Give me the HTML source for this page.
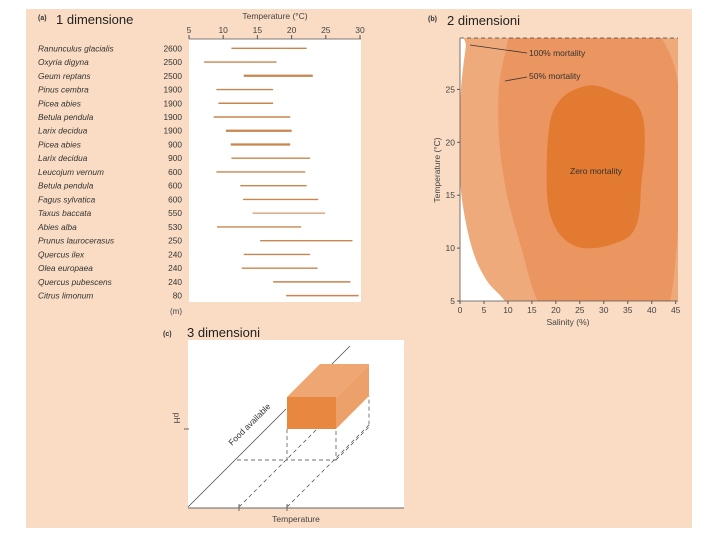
<!DOCTYPE html>
<html><head><meta charset="utf-8">
<style>
html,body{margin:0;padding:0;background:#fff;}
svg{display:block;font-family:"Liberation Sans",sans-serif;}
</style></head>
<body>
<svg width="720" height="540" viewBox="0 0 720 540">
<rect x="26" y="9" width="666" height="519" fill="#f9dcc3"/>
<g id="pa">
 <text x="38" y="20" font-size="7" font-weight="bold" fill="#333">(a)</text>
 <text x="56" y="24" font-size="13" fill="#222">1 dimensione</text>
 <text x="275" y="19" font-size="8.5" fill="#444" text-anchor="middle">Temperature (°C)</text>
 <rect x="189" y="39" width="172" height="263" fill="#fff"/>
 <line x1="189" y1="39" x2="361" y2="39" stroke="#555" stroke-width="0.8"/>
 <g id="aTicks"></g><g id="aRows"></g>
 <text x="182" y="314" font-size="8" fill="#444" text-anchor="end">(m)</text>
</g>
<g id="pb">
 <text x="428" y="21" font-size="7" font-weight="bold" fill="#333">(b)</text>
 <text x="447" y="25" font-size="13" fill="#222">2 dimensioni</text>
 <defs><clipPath id="bclip"><rect x="460" y="38" width="218" height="263"/></clipPath></defs>
 <rect x="460" y="38" width="218" height="263" fill="#fff"/>
 <g clip-path="url(#bclip)" id="bRegions"></g>
 <line x1="460" y1="38" x2="678" y2="38" stroke="#444" stroke-dasharray="4,3" stroke-width="0.8"/>
 <line x1="460" y1="38" x2="460" y2="301" stroke="#555" stroke-width="0.8"/>
 <line x1="460" y1="301" x2="678" y2="301" stroke="#555" stroke-width="0.8"/>
 <g id="bTicks"></g>
 <text x="568" y="325" font-size="8.5" fill="#444" text-anchor="middle">Salinity (%)</text>
 <text transform="translate(440,170) rotate(-90)" font-size="8.5" fill="#444" text-anchor="middle">Temperature (°C)</text>
 <path d="M470,45 L527,53" stroke="#333" stroke-width="0.8" fill="none"/>
 <text x="529" y="56" font-size="8.5" fill="#333">100% mortality</text>
 <path d="M505,81 L527,77" stroke="#333" stroke-width="0.8" fill="none"/>
 <text x="529" y="79" font-size="8.5" fill="#333">50% mortality</text>
 <text x="596" y="174" font-size="8.5" fill="#333" text-anchor="middle">Zero mortality</text>
</g>
<g id="pc">
 <text x="163" y="336" font-size="7" font-weight="bold" fill="#333">(c)</text>
 <text x="187" y="337" font-size="13" fill="#222">3 dimensioni</text>
 <rect x="188" y="340" width="216" height="168" fill="#fff"/>
 <g stroke="#444" stroke-width="0.7" fill="none">
  <line x1="188" y1="507" x2="286" y2="409"/>
  <line x1="287" y1="409" x2="350" y2="346"/>
  <line x1="239" y1="507" x2="320" y2="426" stroke-dasharray="4,3"/>
  <line x1="287" y1="507" x2="370" y2="424" stroke-dasharray="4,3"/>
  <polyline points="287,429 287,460 336,460 336,429" stroke-dasharray="4,3"/>
  <polyline points="237,460 287,460" stroke-dasharray="4,3"/>
  <polyline points="336,460 369,427 369,396" stroke-dasharray="4,3"/>
 </g>
 <polygon points="287,397 320,364 369,364 336,397" fill="#eea772"/>
 <polygon points="336,397 369,364 369,396 336,429" fill="#eda16a"/>
 <rect x="287" y="397" width="49" height="32" fill="#e8873f"/>
 <line x1="188" y1="508" x2="404" y2="508" stroke="#666" stroke-width="1"/>
 <line x1="239" y1="504" x2="239" y2="511" stroke="#666"/>
 <line x1="287" y1="504" x2="287" y2="511" stroke="#666"/>
 <line x1="184" y1="429" x2="189" y2="429" stroke="#666"/>
 <text x="296" y="522" font-size="8.5" fill="#444" text-anchor="middle">Temperature</text>
 <text transform="translate(174,418) rotate(90)" font-size="8.5" fill="#444" text-anchor="middle">pH</text>
 <text transform="translate(232,446) rotate(-45)" font-size="8.5" fill="#333">Food available</text>
</g>
</svg>
<script>
var NS="http://www.w3.org/2000/svg";
// Panel a data
var species=["Ranunculus glacialis","Oxyria digyna","Geum reptans","Pinus cembra","Picea abies","Betula pendula","Larix decidua","Picea abies","Larix decidua","Leucojum vernum","Betula pendula","Fagus sylvatica","Taxus baccata","Abies alba","Prunus laurocerasus","Quercus ilex","Olea europaea","Quercus pubescens","Citrus limonum"];
var altitudes=["2600","2500","2500","1900","1900","1900","1900","900","900","600","600","600","550","530","250","240","240","240","80"];
var tempMin=[11.2,7.2,13.0,9.0,9.3,8.6,10.4,11.1,11.2,9.0,12.5,12.9,14.3,9.1,15.4,13.0,12.7,17.3,19.2];
var tempMax=[22.2,17.8,23.1,17.3,17.3,19.8,20.0,19.8,22.7,22.0,22.2,23.9,24.9,21.4,28.9,22.7,23.8,28.6,29.8];
var thick=[0,0,1,0,0,0,1,1,0,0,0,0,0,0,0,0,0,0,0];
var tempTicks=[5,10,15,20,25,30];
// Panel b data [salinity, temperature]
var salTicks=[0,5,10,15,20,25,30,35,40,45];
var tTicks=[5,10,15,20,25];
var region100=[[2.5,33],[1.2,29],[0.2,25],[-0.2,20],[0.3,15],[2.5,10],[5.5,7],[9.4,5],[16,1],[40,-5],[70,-5],[70,40],[40,40]];
var region50=[[12.5,33],[9.5,28.5],[8.1,25],[8.2,20],[9.8,15],[12.8,10],[16.2,5],[22,1],[35,0],[42.5,3],[45.2,10],[46,20],[45.3,26],[42.5,29.5],[37,33],[25,36]];
var region0=[[26,25.3],[22,24.5],[19.5,23],[18.5,21],[18.1,18],[18.4,14],[20.5,11.5],[24,10.2],[28,10],[32,10.4],[35.5,11.2],[37.3,13],[37.8,16],[38.5,19],[38.3,22],[36.5,23.8],[33,24.6],[29,25.3]];
function sx(t){return 189+(t-5)*6.84;}
function rowY(i){return 48.3+i*13.74;}
function bx(s){return 460+s*4.793;}
function by(t){return 301-(t-5)*10.58;}
var g=document.getElementById('aTicks');
tempTicks.forEach(function(t){
 var l=document.createElementNS(NS,'line');l.setAttribute('x1',sx(t));l.setAttribute('x2',sx(t));l.setAttribute('y1',35);l.setAttribute('y2',39);l.setAttribute('stroke','#555');
 
 g.appendChild(l);
 var tx=document.createElementNS(NS,'text');tx.setAttribute('x',sx(t));tx.setAttribute('y',33);tx.setAttribute('font-size','8.5');tx.setAttribute('fill','#444');tx.setAttribute('text-anchor','middle');tx.textContent=t;
 
 g.appendChild(tx);
});
var r=document.getElementById('aRows');
species.forEach(function(s,i){
 var y=rowY(i);
 var n=document.createElementNS(NS,'text');n.setAttribute('x',38);n.setAttribute('y',y+3);n.setAttribute('font-size','8.3');n.setAttribute('font-style','italic');n.setAttribute('fill','#333');n.textContent=s;
 
 r.appendChild(n);
 var a=document.createElementNS(NS,'text');a.setAttribute('x',182);a.setAttribute('y',y+3);a.setAttribute('font-size','8.3');a.setAttribute('fill','#333');a.setAttribute('text-anchor','end');a.textContent=altitudes[i];
 
 r.appendChild(a);
 var b=document.createElementNS(NS,'line');b.setAttribute('x1',sx(tempMin[i]));b.setAttribute('x2',sx(tempMax[i]));b.setAttribute('y1',y);b.setAttribute('y2',y);
 b.setAttribute('stroke',i==12?'#dba27a':'#c9854d');b.setAttribute('stroke-width',thick[i]?2.2:1.4);
 
 r.appendChild(b);
});
function smooth(pts){
 var p=pts.map(function(q){return [bx(q[0]),by(q[1])];});
 var d='M'+p[0][0]+','+p[0][1];
 var n=p.length;
 for(var i=0;i<n;i++){
  var p0=p[(i-1+n)%n],p1=p[i],p2=p[(i+1)%n],p3=p[(i+2)%n];
  var c1=[p1[0]+(p2[0]-p0[0])/6,p1[1]+(p2[1]-p0[1])/6],c2=[p2[0]-(p3[0]-p1[0])/6,p2[1]-(p3[1]-p1[1])/6];
  d+=' C'+c1[0]+','+c1[1]+' '+c2[0]+','+c2[1]+' '+p2[0]+','+p2[1];
 }
 return d+'Z';
}
var br=document.getElementById('bRegions');
[[region100,'#efaa7c','region-100-mortality'],[region50,'#eb9560','region-50-mortality'],[region0,'#e27a32','region-zero-mortality']].forEach(function(o){
 var p=document.createElementNS(NS,'path');
 p.setAttribute('d',smooth(o[0]));
 p.setAttribute('fill',o[1]);
 
 
 br.appendChild(p);
});
var bt=document.getElementById('bTicks');
salTicks.forEach(function(s){
 var l=document.createElementNS(NS,'line');l.setAttribute('x1',bx(s));l.setAttribute('x2',bx(s));l.setAttribute('y1',301);l.setAttribute('y2',304);l.setAttribute('stroke','#555');
 
 bt.appendChild(l);
 var tx=document.createElementNS(NS,'text');tx.setAttribute('x',bx(s));tx.setAttribute('y',313);tx.setAttribute('font-size','8.5');tx.setAttribute('fill','#444');tx.setAttribute('text-anchor','middle');tx.textContent=s;
 
 bt.appendChild(tx);
});
tTicks.forEach(function(t){
 var l=document.createElementNS(NS,'line');l.setAttribute('x1',457);l.setAttribute('x2',460);l.setAttribute('y1',by(t));l.setAttribute('y2',by(t));l.setAttribute('stroke','#555');
 
 bt.appendChild(l);
 var tx=document.createElementNS(NS,'text');tx.setAttribute('x',455);tx.setAttribute('y',by(t)+3);tx.setAttribute('font-size','8.5');tx.setAttribute('fill','#444');tx.setAttribute('text-anchor','end');tx.textContent=t;
 
 bt.appendChild(tx);
});
</script>
</body></html>
